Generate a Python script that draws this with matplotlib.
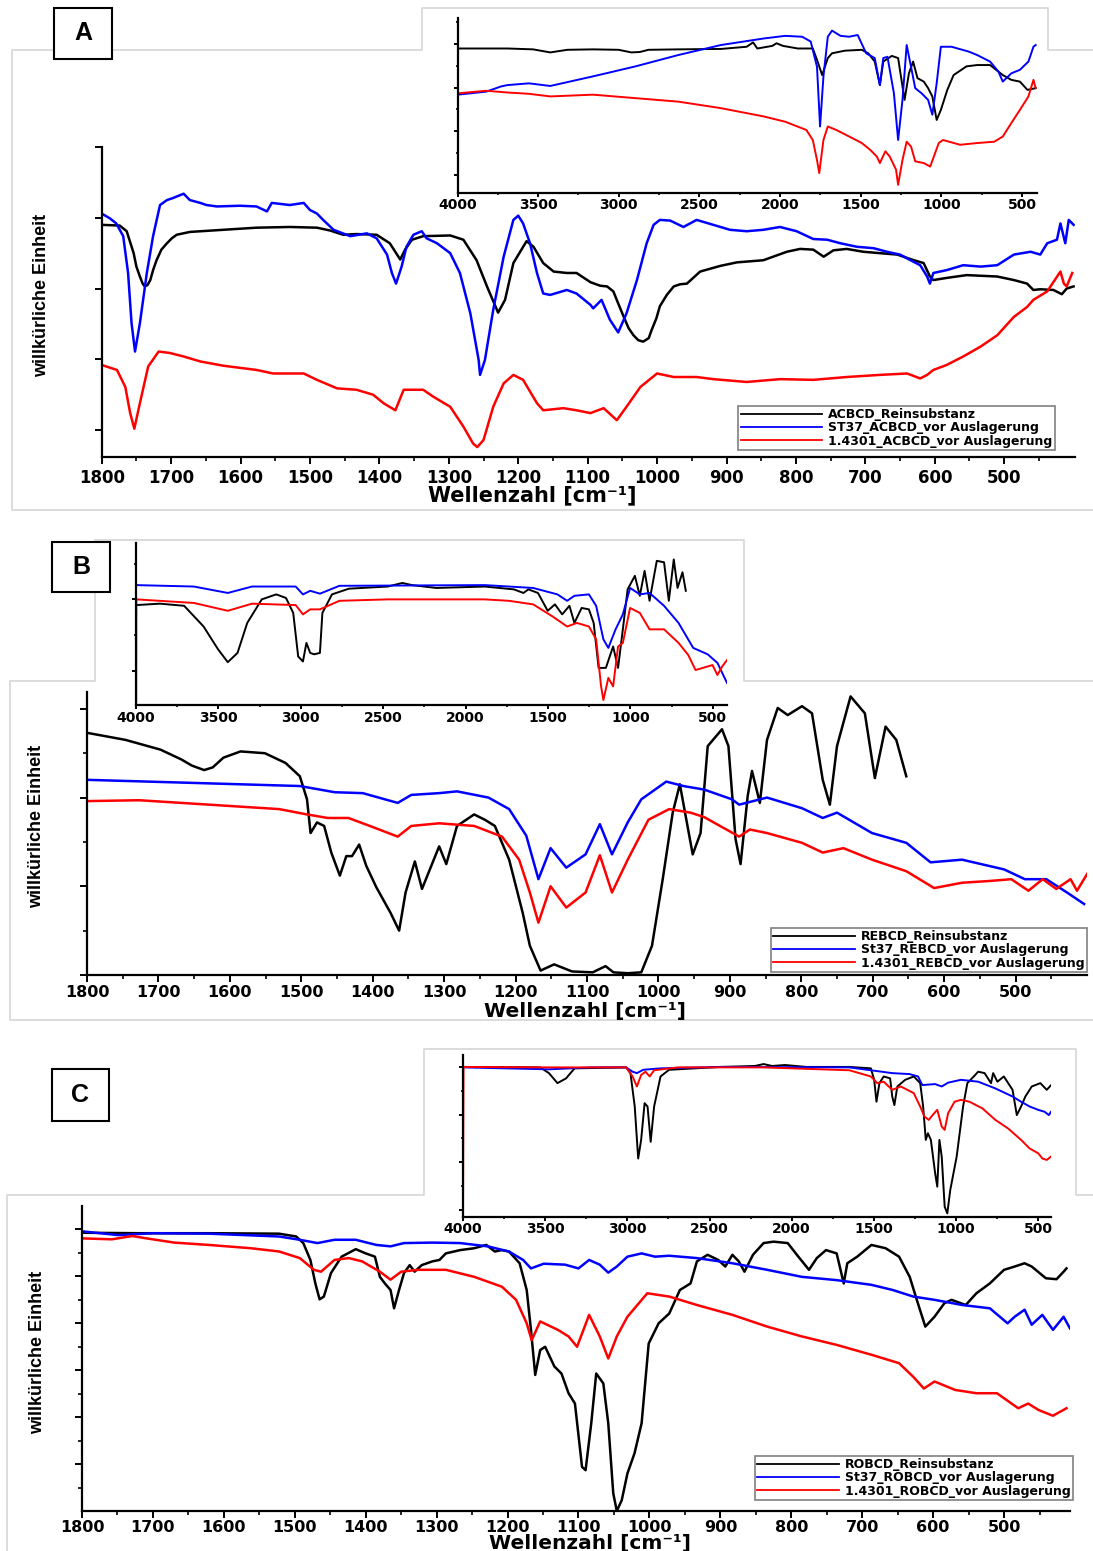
import matplotlib
matplotlib.use("Agg")
import matplotlib.pyplot as plt
from matplotlib import font_manager
from matplotlib.lines import Line2D
from matplotlib.patches import Rectangle
import numpy as np

W, H = 1093, 1551

# wavenumber axes
main_ticks = [1800, 1700, 1600, 1500, 1400, 1300, 1200, 1100, 1000, 900, 800, 700, 600, 500]
main_minor = [1750, 1650, 1550, 1450, 1350, 1250, 1150, 1050, 950, 850, 750, 650, 550, 450]
inset_ticks = [4000, 3500, 3000, 2500, 2000, 1500, 1000, 500]
inset_minor = [3750, 3250, 2750, 2250, 1750, 1250, 750]

colors = ["black", "#0000ff", "#ff0000"]

# ---------------- A: ACBCD ----------------
a_labels = ["ACBCD_Reinsubstanz", "ST37_ACBCD_vor Auslagerung", "1.4301_ACBCD_vor Auslagerung"]

a_black = [(1800, 2.90), (1774, 2.89), (1764, 2.81), (1754, 2.50), (1750, 2.31), (1745, 2.17), (1741, 2.07),
           (1738, 2.03), (1734, 2.05), (1730, 2.12), (1726, 2.26), (1721, 2.40), (1714, 2.55), (1706, 2.64),
           (1699, 2.71), (1692, 2.76), (1673, 2.80), (1625, 2.83), (1577, 2.86), (1529, 2.87),
           (1490, 2.86), (1471, 2.82), (1452, 2.76), (1433, 2.77), (1404, 2.76), (1385, 2.64), (1370, 2.41),
           (1363, 2.55), (1353, 2.69), (1337, 2.74), (1298, 2.75), (1279, 2.69), (1260, 2.40), (1245, 2.03),
           (1229, 1.66), (1219, 1.84), (1207, 2.36), (1188, 2.67), (1178, 2.59), (1164, 2.36), (1149, 2.24),
           (1130, 2.22), (1116, 2.22), (1096, 2.09), (1082, 2.04), (1072, 2.03), (1063, 1.96), (1056, 1.79),
           (1048, 1.60), (1041, 1.44), (1034, 1.34), (1027, 1.27), (1020, 1.25), (1012, 1.30), (1008, 1.41),
           (1001, 1.58), (996, 1.75), (986, 1.91), (976, 2.03), (967, 2.06), (957, 2.07), (938, 2.24),
           (909, 2.32), (885, 2.37), (847, 2.40), (813, 2.52), (794, 2.56), (775, 2.55), (760, 2.45),
           (746, 2.54), (727, 2.56), (703, 2.52), (679, 2.50), (654, 2.48), (630, 2.40), (616, 2.36),
           (607, 2.17), (602, 2.12), (583, 2.15), (554, 2.19), (510, 2.17), (486, 2.12), (467, 2.07),
           (458, 1.98), (448, 1.99), (429, 1.98), (417, 1.92), (410, 2.00), (400, 2.03)]
a_blue = [(1800, 3.06), (1788, 2.99), (1779, 2.92), (1769, 2.74), (1762, 2.22), (1757, 1.51), (1752, 1.11),
          (1745, 1.51), (1735, 2.22), (1726, 2.74), (1716, 3.18), (1706, 3.25), (1697, 3.28), (1682, 3.34),
          (1673, 3.25), (1658, 3.21), (1649, 3.18), (1634, 3.16), (1601, 3.17), (1577, 3.16), (1562, 3.09),
          (1555, 3.21), (1529, 3.18), (1509, 3.21), (1500, 3.11), (1490, 3.06), (1481, 2.97), (1466, 2.83),
          (1442, 2.74), (1418, 2.78), (1404, 2.71), (1389, 2.48), (1382, 2.22), (1376, 2.07), (1368, 2.31),
          (1361, 2.59), (1351, 2.76), (1339, 2.81), (1332, 2.71), (1317, 2.64), (1298, 2.50), (1284, 2.22),
          (1269, 1.65), (1257, 0.99), (1255, 0.78), (1248, 0.99), (1236, 1.70), (1221, 2.45), (1207, 2.97),
          (1200, 3.03), (1193, 2.92), (1183, 2.64), (1173, 2.22), (1164, 1.93), (1154, 1.91), (1130, 1.98),
          (1116, 1.93), (1096, 1.77), (1092, 1.72), (1080, 1.84), (1068, 1.56), (1056, 1.38), (1044, 1.65),
          (1029, 2.12), (1015, 2.64), (1005, 2.90), (996, 2.97), (981, 2.96), (962, 2.87), (943, 2.97),
          (919, 2.90), (895, 2.83), (871, 2.81), (847, 2.83), (823, 2.87), (799, 2.81), (775, 2.70),
          (755, 2.69), (736, 2.64), (712, 2.59), (688, 2.57), (669, 2.52), (650, 2.48), (631, 2.38),
          (621, 2.33), (611, 2.17), (607, 2.07), (602, 2.22), (583, 2.26), (559, 2.33), (534, 2.31),
          (510, 2.33), (486, 2.48), (462, 2.52), (448, 2.48), (438, 2.64), (424, 2.69), (419, 2.92),
          (412, 2.64), (407, 2.97), (400, 2.90)]
a_red = [(1800, 0.92), (1778, 0.85), (1766, 0.61), (1759, 0.24), (1753, 0.02), (1745, 0.38), (1733, 0.90),
         (1718, 1.11), (1702, 1.09), (1682, 1.04), (1658, 0.97), (1625, 0.91), (1577, 0.85), (1553, 0.80),
         (1509, 0.80), (1490, 0.71), (1461, 0.59), (1433, 0.57), (1409, 0.50), (1394, 0.38), (1377, 0.28),
         (1365, 0.57), (1337, 0.57), (1322, 0.47), (1298, 0.33), (1279, 0.05), (1265, -0.19), (1259, -0.24),
         (1250, -0.14), (1236, 0.33), (1221, 0.66), (1207, 0.78), (1193, 0.71), (1173, 0.38), (1164, 0.28),
         (1135, 0.31), (1116, 0.28), (1096, 0.24), (1077, 0.31), (1058, 0.14), (1044, 0.33), (1024, 0.61),
         (1000, 0.80), (976, 0.75), (943, 0.75), (919, 0.72), (871, 0.68), (823, 0.72), (775, 0.71),
         (727, 0.75), (679, 0.78), (640, 0.80), (621, 0.73), (611, 0.78), (602, 0.85), (583, 0.92),
         (559, 1.04), (534, 1.18), (510, 1.34), (486, 1.60), (467, 1.74), (458, 1.84), (438, 1.96),
         (419, 2.24), (414, 2.07), (410, 2.03), (402, 2.22)]

a_ins_black = [(4000, 2.90), (3690, 2.90), (3531, 2.88), (3425, 2.81), (3319, 2.87), (3160, 2.88), (3001, 2.87),
               (2922, 2.81), (2869, 2.82), (2816, 2.87), (2631, 2.88), (2366, 2.89), (2207, 2.94), (2167, 3.04),
               (2141, 2.90), (2048, 2.96), (2022, 3.02), (1982, 2.96), (1890, 2.90), (1797, 2.90), (1771, 2.64),
               (1739, 2.29), (1704, 2.68), (1678, 2.79), (1598, 2.85), (1493, 2.87), (1453, 2.79), (1413, 2.60),
               (1381, 2.06), (1360, 2.60), (1307, 2.73), (1268, 2.68), (1228, 1.72), (1201, 2.33), (1175, 2.60),
               (1148, 2.22), (1109, 2.14), (1082, 1.99), (1056, 1.80), (1029, 1.26), (1003, 1.49), (963, 1.95),
               (924, 2.29), (844, 2.49), (778, 2.52), (698, 2.52), (619, 2.29), (566, 2.18), (513, 2.14),
               (466, 1.95), (415, 1.99)]
a_ins_blue = [(4000, 1.84), (3822, 1.91), (3729, 2.03), (3690, 2.06), (3557, 2.10), (3425, 2.04), (3160, 2.26),
              (2896, 2.49), (2631, 2.75), (2366, 2.98), (2101, 3.13), (1969, 3.19), (1863, 3.17), (1810, 3.06),
              (1771, 2.48), (1752, 1.11), (1731, 2.26), (1704, 3.17), (1678, 3.31), (1625, 3.19), (1572, 3.17),
              (1519, 3.21), (1466, 2.79), (1413, 2.68), (1381, 2.06), (1360, 2.68), (1334, 2.71), (1294, 1.87),
              (1268, 0.80), (1241, 1.72), (1215, 2.98), (1188, 2.48), (1162, 1.99), (1122, 1.87), (1082, 1.72),
              (1056, 1.38), (1029, 2.10), (1003, 2.94), (937, 2.94), (831, 2.83), (778, 2.75), (698, 2.60),
              (646, 2.37), (619, 2.14), (566, 2.33), (513, 2.41), (460, 2.60), (429, 2.94), (415, 2.98)]
a_ins_red = [(4000, 1.87), (3822, 1.93), (3690, 1.89), (3557, 1.86), (3425, 1.80), (3160, 1.84), (2896, 1.76),
             (2631, 1.68), (2366, 1.53), (2101, 1.34), (1969, 1.22), (1837, 1.03), (1797, 0.80), (1771, 0.34),
             (1757, 0.04), (1731, 0.80), (1704, 1.11), (1651, 1.03), (1572, 0.88), (1493, 0.73), (1440, 0.57),
             (1400, 0.42), (1381, 0.27), (1347, 0.54), (1320, 0.42), (1281, 0.12), (1268, -0.23), (1241, 0.34),
             (1215, 0.76), (1188, 0.65), (1162, 0.31), (1109, 0.27), (1069, 0.19), (1016, 0.73), (990, 0.80),
             (884, 0.69), (778, 0.73), (672, 0.76), (619, 0.88), (566, 1.19), (513, 1.49), (460, 1.80),
             (429, 2.18), (415, 1.99)]

# ---------------- B: REBCD ----------------
b_labels = ["REBCD_Reinsubstanz", "St37_REBCD_vor Auslagerung", "1.4301_REBCD_vor Auslagerung"]

b_black = [(1800, 1.73), (1746, 1.65), (1697, 1.54), (1668, 1.43), (1653, 1.36), (1636, 1.31), (1624, 1.34),
           (1609, 1.45), (1585, 1.52), (1551, 1.50), (1522, 1.39), (1502, 1.24), (1492, 0.98), (1487, 0.60),
           (1478, 0.72), (1468, 0.68), (1458, 0.38), (1446, 0.12), (1437, 0.34), (1429, 0.34), (1419, 0.47),
           (1409, 0.23), (1395, -0.01), (1375, -0.30), (1363, -0.50), (1354, -0.07), (1341, 0.28), (1331, -0.03),
           (1318, 0.23), (1307, 0.45), (1297, 0.25), (1282, 0.68), (1258, 0.81), (1243, 0.75), (1229, 0.68),
           (1209, 0.30), (1190, -0.30), (1180, -0.67), (1165, -0.95), (1146, -0.88), (1121, -0.96), (1092, -0.97),
           (1074, -0.90), (1063, -0.97), (1043, -0.98), (1024, -0.97), (1009, -0.67), (994, 0.08), (980, 0.83),
           (970, 1.15), (960, 0.71), (952, 0.36), (941, 0.60), (931, 1.58), (911, 1.77), (902, 1.58), (892, 0.53),
           (885, 0.25), (875, 1.02), (869, 1.30), (858, 0.94), (848, 1.65), (833, 2.01), (819, 1.93), (799, 2.03),
           (785, 1.95), (770, 1.20), (760, 0.92), (750, 1.58), (731, 2.14), (711, 1.95), (697, 1.22), (682, 1.80),
           (667, 1.65), (653, 1.24)]
b_blue = [(1800, 1.20), (1629, 1.16), (1502, 1.13), (1453, 1.06), (1414, 1.05), (1365, 0.94), (1346, 1.03),
          (1307, 1.05), (1282, 1.07), (1238, 1.00), (1209, 0.87), (1185, 0.57), (1168, 0.08), (1151, 0.43),
          (1129, 0.21), (1102, 0.36), (1082, 0.70), (1065, 0.36), (1043, 0.72), (1024, 0.98), (989, 1.18),
          (965, 1.13), (936, 1.09), (897, 0.98), (887, 0.92), (848, 1.00), (799, 0.88), (770, 0.77), (750, 0.83),
          (701, 0.60), (653, 0.49), (619, 0.27), (575, 0.30), (516, 0.19), (487, 0.08), (457, 0.08), (428, -0.07),
          (404, -0.20)]
b_red = [(1800, 0.96), (1727, 0.97), (1629, 0.92), (1531, 0.87), (1492, 0.81), (1463, 0.77), (1434, 0.77),
         (1404, 0.68), (1365, 0.56), (1346, 0.68), (1307, 0.71), (1258, 0.68), (1219, 0.56), (1195, 0.30),
         (1180, -0.07), (1168, -0.41), (1151, 0.00), (1129, -0.24), (1102, -0.07), (1082, 0.35), (1065, -0.07),
         (1043, 0.30), (1014, 0.75), (985, 0.87), (955, 0.83), (936, 0.78), (887, 0.56), (872, 0.64), (848, 0.60),
         (799, 0.49), (770, 0.38), (741, 0.43), (701, 0.30), (653, 0.17), (614, -0.02), (575, 0.04), (536, 0.06),
         (506, 0.08), (482, -0.05), (462, 0.08), (443, -0.03), (423, 0.08), (414, -0.05), (399, 0.15)]

b_ins_black = [(3999, 0.92), (3855, 0.94), (3708, 0.91), (3590, 0.62), (3502, 0.30), (3443, 0.12), (3384, 0.25),
               (3325, 0.67), (3237, 1.00), (3149, 1.07), (3090, 1.02), (3046, 0.81), (3016, 0.20), (2987, 0.13),
               (2966, 0.39), (2943, 0.25), (2919, 0.23), (2884, 0.25), (2869, 0.81), (2811, 1.07), (2708, 1.15),
               (2472, 1.18), (2384, 1.23), (2325, 1.20), (2178, 1.16), (1884, 1.18), (1707, 1.14), (1649, 1.09),
               (1619, 1.14), (1561, 1.09), (1502, 0.84), (1458, 0.93), (1414, 0.79), (1370, 0.91), (1340, 0.67),
               (1296, 0.88), (1252, 0.86), (1223, 0.67), (1193, 0.04), (1149, 0.04), (1105, 0.34), (1075, 0.04),
               (1046, 0.58), (1017, 1.14), (973, 1.33), (943, 1.05), (914, 1.40), (884, 0.98), (840, 1.54),
               (796, 1.52), (767, 0.98), (737, 1.56), (714, 1.16), (684, 1.38), (664, 1.12)]
b_ins_blue = [(3999, 1.20), (3649, 1.18), (3443, 1.09), (3296, 1.18), (3031, 1.18), (2987, 1.07), (2943, 1.12),
              (2884, 1.08), (2766, 1.19), (1884, 1.20), (1590, 1.16), (1443, 1.07), (1384, 0.98), (1340, 1.05),
              (1252, 1.07), (1208, 0.91), (1164, 0.44), (1134, 0.32), (1090, 0.58), (1046, 0.79), (1002, 1.16),
              (943, 1.07), (884, 1.09), (796, 0.91), (708, 0.67), (619, 0.32), (531, 0.23), (472, 0.11),
              (414, -0.17)]
b_ins_red = [(3999, -0.48), (3998, 1.00), (3649, 0.95), (3443, 0.84), (3296, 0.94), (3031, 0.92), (2987, 0.79),
             (2943, 0.86), (2884, 0.86), (2766, 0.98), (2472, 1.00), (1884, 1.00), (1737, 0.98), (1590, 0.93),
             (1472, 0.76), (1384, 0.62), (1325, 0.67), (1252, 0.62), (1208, 0.44), (1178, -0.22), (1164, -0.41),
             (1134, -0.10), (1105, -0.22), (1075, 0.34), (1046, 0.39), (1002, 0.88), (943, 0.81), (884, 0.58),
             (796, 0.58), (708, 0.39), (649, 0.22), (605, 0.01), (502, 0.08), (472, -0.06), (443, 0.06),
             (414, 0.15)]

# ---------------- C: ROBCD ----------------
c_labels = ["ROBCD_Reinsubstanz", "St37_ROBCD_vor Auslagerung", "1.4301_ROBCD_vor Auslagerung"]

c_black = [(1800, 5.93), (1719, 5.92), (1621, 5.92), (1522, 5.91), (1498, 5.85), (1488, 5.71), (1478, 5.35),
           (1471, 4.85), (1465, 4.51), (1459, 4.57), (1449, 5.07), (1434, 5.42), (1414, 5.58), (1400, 5.49),
           (1387, 5.42), (1380, 4.99), (1373, 4.85), (1365, 4.71), (1360, 4.32), (1353, 4.71), (1346, 5.07),
           (1338, 5.24), (1331, 5.10), (1321, 5.24), (1306, 5.32), (1296, 5.35), (1287, 5.49), (1267, 5.56),
           (1247, 5.60), (1230, 5.67), (1218, 5.53), (1208, 5.56), (1198, 5.53), (1183, 5.28), (1173, 4.71),
           (1167, 3.86), (1161, 2.90), (1154, 3.43), (1147, 3.50), (1134, 3.08), (1124, 2.93), (1114, 2.51),
           (1105, 2.29), (1095, 0.94), (1090, 0.87), (1082, 1.87), (1075, 2.93), (1065, 2.72), (1058, 1.87),
           (1051, 0.38), (1046, 0.00), (1039, 0.23), (1031, 0.80), (1021, 1.23), (1011, 1.87), (1001, 3.57),
           (987, 4.00), (972, 4.21), (957, 4.71), (942, 4.85), (933, 5.32), (918, 5.46), (903, 5.35), (893, 5.21),
           (883, 5.46), (874, 5.32), (866, 5.10), (854, 5.46), (839, 5.71), (825, 5.74), (805, 5.71), (790, 5.42),
           (775, 5.14), (764, 5.39), (751, 5.56), (736, 5.49), (726, 4.85), (721, 5.28), (707, 5.42), (687, 5.67),
           (667, 5.60), (648, 5.42), (633, 4.99), (623, 4.50), (611, 3.93), (598, 4.14), (584, 4.43), (574, 4.50),
           (554, 4.39), (539, 4.64), (520, 4.85), (500, 5.14), (485, 5.21), (471, 5.28), (461, 5.21), (441, 4.96),
           (426, 4.94), (416, 5.10), (412, 5.17)]
c_blue = [(1800, 5.96), (1749, 5.88), (1699, 5.92), (1621, 5.91), (1522, 5.85), (1493, 5.78), (1468, 5.71),
          (1444, 5.78), (1414, 5.78), (1385, 5.67), (1365, 5.64), (1346, 5.71), (1306, 5.72), (1267, 5.71),
          (1228, 5.64), (1198, 5.53), (1178, 5.35), (1167, 5.17), (1149, 5.27), (1119, 5.25), (1100, 5.17),
          (1085, 5.35), (1070, 5.25), (1058, 5.08), (1046, 5.21), (1031, 5.42), (1011, 5.49), (992, 5.42),
          (972, 5.44), (933, 5.39), (883, 5.28), (834, 5.14), (785, 4.99), (736, 4.92), (687, 4.82), (657, 4.71),
          (628, 4.57), (598, 4.50), (559, 4.39), (520, 4.32), (495, 4.00), (485, 4.14), (471, 4.29), (461, 3.97),
          (446, 4.18), (431, 3.86), (416, 4.14), (407, 3.89)]
c_red = [(1800, 5.81), (1758, 5.79), (1729, 5.86), (1709, 5.81), (1670, 5.72), (1621, 5.67), (1562, 5.60),
         (1522, 5.53), (1493, 5.39), (1473, 5.14), (1463, 5.10), (1444, 5.35), (1424, 5.39), (1405, 5.32),
         (1380, 5.10), (1365, 4.93), (1350, 5.10), (1326, 5.14), (1287, 5.14), (1247, 4.99), (1208, 4.78),
         (1188, 4.50), (1173, 4.00), (1166, 3.64), (1154, 4.04), (1129, 3.86), (1114, 3.72), (1102, 3.50),
         (1085, 4.18), (1070, 3.72), (1058, 3.25), (1046, 3.72), (1031, 4.14), (1003, 4.64), (972, 4.57),
         (933, 4.39), (883, 4.18), (834, 3.93), (785, 3.72), (736, 3.54), (687, 3.33), (648, 3.15), (628, 2.86),
         (613, 2.61), (598, 2.76), (569, 2.58), (539, 2.51), (510, 2.51), (480, 2.19), (466, 2.29), (451, 2.15),
         (431, 2.03), (412, 2.19)]

c_ins_black = [(4000, 3.00), (3530, 2.99), (3477, 2.87), (3425, 2.66), (3373, 2.76), (3321, 2.97), (3007, 2.99),
               (2981, 2.87), (2955, 2.17), (2934, 1.08), (2916, 1.47), (2895, 2.24), (2877, 2.17), (2858, 1.43),
               (2837, 2.17), (2798, 2.80), (2746, 2.94), (2433, 3.00), (2224, 3.02), (2171, 3.06), (2119, 3.02),
               (2041, 3.04), (1910, 3.00), (1649, 3.00), (1518, 2.97), (1498, 2.73), (1484, 2.27), (1466, 2.66),
               (1440, 2.80), (1401, 2.76), (1388, 2.38), (1375, 2.20), (1357, 2.59), (1309, 2.73), (1257, 2.80),
               (1218, 2.66), (1200, 2.17), (1184, 1.47), (1171, 1.61), (1153, 1.47), (1127, 0.77), (1114, 0.49),
               (1101, 1.47), (1087, 1.12), (1069, 0.07), (1053, -0.07), (1035, 0.42), (996, 1.12), (957, 2.17),
               (931, 2.66), (892, 2.80), (865, 2.90), (826, 2.87), (787, 2.66), (774, 2.87), (748, 2.69),
               (709, 2.80), (656, 2.52), (630, 1.99), (604, 2.17), (578, 2.38), (539, 2.59), (487, 2.66),
               (448, 2.52), (421, 2.62)]
c_ins_blue = [(4000, 2.99), (3739, 2.97), (3477, 2.95), (3216, 2.99), (3007, 2.99), (2968, 2.90), (2942, 2.87),
              (2903, 2.94), (2798, 2.97), (2433, 3.00), (1649, 2.99), (1518, 2.93), (1388, 2.87), (1283, 2.85),
              (1231, 2.80), (1205, 2.62), (1127, 2.64), (1087, 2.59), (1048, 2.67), (970, 2.73), (865, 2.69),
              (761, 2.55), (656, 2.38), (604, 2.27), (552, 2.17), (500, 2.10), (461, 2.06), (435, 1.99),
              (422, 2.06)]
c_ins_red = [(4000, -0.14), (3997, 3.00), (3477, 2.99), (3007, 2.99), (2968, 2.80), (2942, 2.59), (2916, 2.83),
             (2890, 2.90), (2864, 2.80), (2837, 2.93), (2694, 2.99), (2171, 2.99), (1649, 2.93), (1518, 2.80),
             (1479, 2.66), (1440, 2.69), (1388, 2.52), (1336, 2.59), (1257, 2.45), (1218, 2.17), (1192, 1.96),
             (1166, 1.89), (1140, 2.00), (1114, 2.10), (1087, 1.75), (1069, 1.68), (1048, 2.03), (1009, 2.27),
             (970, 2.31), (918, 2.27), (839, 2.13), (761, 1.89), (683, 1.71), (604, 1.47), (552, 1.29),
             (500, 1.19), (474, 1.08), (448, 1.05), (422, 1.12)]


def pick_font(names):
    for name in names:
        try:
            font_manager.findfont(font_manager.FontProperties(family=name, weight="bold"),
                                  fallback_to_default=False)
            return name
        except ValueError:
            pass
    return "DejaVu Sans"


BOLD_WIDE = "DejaVu Sans"
NARROW = pick_font(["Liberation Sans Narrow", "Liberation Sans"])
NARROW_SIZE = 16 if NARROW == "Liberation Sans Narrow" else 13
ARIAL = pick_font(["Liberation Sans"])

fig = plt.figure(figsize=(W / 100, H / 100), dpi=100)
fig.patch.set_facecolor("white")


def box(x0, y0, x1, y1):
    return [x0 / W, 1 - y1 / H, (x1 - x0) / W, (y1 - y0) / H]


def fpt(x, y):
    return x / W, 1 - y / H


def frame(points):
    xs = [p[0] / W for p in points]
    ys = [1 - p[1] / H for p in points]
    fig.add_artist(Line2D(xs, ys, transform=fig.transFigure, color="#d6d6d6", lw=1.2))


def letter(ch, x0, y0, x1, y1):
    fig.add_artist(Rectangle(fpt(x0, y1), (x1 - x0) / W, (y1 - y0) / H, transform=fig.transFigure,
                             fill=True, facecolor="white", edgecolor="black", lw=1.5, zorder=5))
    cx, cy = fpt((x0 + x1) / 2, (y0 + y1) / 2)
    fig.text(cx, cy, ch, ha="center", va="center", fontsize=18, fontweight="bold", family=ARIAL, zorder=6)


def style(ax, xlim, ylim, ymaj, ymin, xt, xm, size, tlen, pad):
    ax.set_xlim(*xlim)
    ax.set_ylim(*ylim)
    ax.set_facecolor("none")
    for s in ("top", "right"):
        ax.spines[s].set_visible(False)
    for s in ("left", "bottom"):
        ax.spines[s].set_linewidth(1.6)
    ax.set_xticks(xt)
    ax.set_xticklabels([str(t) for t in xt], fontsize=size, fontweight="bold", family=BOLD_WIDE)
    ax.set_xticks(xm, minor=True)
    ax.set_yticks(ymaj)
    ax.set_yticklabels([])
    ax.set_yticks(ymin, minor=True)
    ax.tick_params(which="major", direction="out", length=tlen, width=1.4, pad=pad)
    ax.tick_params(which="minor", direction="out", length=tlen * 0.6, width=1.2)


def curves(ax, series, lw):
    for pts, c in zip(series, colors):
        arr = np.array(pts)
        ax.plot(arr[:, 0], arr[:, 1], color=c, lw=lw, solid_joinstyle="round")


def legend(ax, labels, x1, y1, size):
    handles = [Line2D([], [], color=c, lw=1.3) for c in colors]
    leg = ax.legend(handles, labels, loc="lower right", bbox_to_anchor=fpt(x1, y1),
                    bbox_transform=fig.transFigure, borderaxespad=0, fancybox=False,
                    edgecolor="#8a8a8a", framealpha=1, handlelength=6.5, handletextpad=0.5,
                    labelspacing=0.02, borderpad=0.2,
                    prop={"weight": "bold", "size": size, "family": BOLD_WIDE})
    leg.get_frame().set_linewidth(1.3)


def ylabel(x, y):
    fx, fy = fpt(x, y)
    fig.text(fx, fy, "willkürliche Einheit", rotation=90, ha="center", va="center",
             fontsize=NARROW_SIZE, fontweight="bold", family=NARROW)


def xlabel(x, y, size):
    fx, fy = fpt(x, y)
    fig.text(fx, fy, "Wellenzahl [cm⁻¹]", ha="center", va="center",
             fontsize=size, fontweight="bold", family=BOLD_WIDE)


# panel frames
frame([(1093, 510), (12, 510), (12, 50), (422, 50), (422, 8), (1048, 8), (1048, 50), (1093, 50)])
frame([(1093, 1020), (10, 1020), (10, 681), (95, 681), (95, 540), (744, 540), (744, 681), (1093, 681)])
frame([(7, 1551), (7, 1195), (424, 1195), (424, 1049), (1076, 1049), (1076, 1195), (1093, 1195)])

# ---- A ----
ax = fig.add_axes(box(101.7, 147, 1075, 457))
style(ax, (1800, 398), (-0.38, 4.0), [0, 1, 2, 3, 4], [], main_ticks, main_minor, 12, 5, 3.5)
curves(ax, [a_black, a_blue, a_red], 1.8)
legend(ax, a_labels, 1055, 450, 9)

axi = fig.add_axes(box(457.5, 18, 1036.5, 192.7))
style(axi, (4000, 410), (-0.41, 3.6), [0, 1, 2, 3], [0.5, 1.5, 2.5, 3.5], inset_ticks, inset_minor, 10, 3, 1)
curves(axi, [a_ins_black, a_ins_blue, a_ins_red], 1.4)

ylabel(42, 295)
xlabel(532, 495, 15)
letter("A", 54, 8, 112, 59)

# ---- B ----
ax = fig.add_axes(box(87, 692, 1087, 975))
style(ax, (1800, 400), (-0.99, 2.19), [-1, 0, 1, 2], [-0.5, 0.5, 1.5], main_ticks, main_minor, 11.5, 5, 2)
curves(ax, [b_black, b_blue, b_red], 1.8)
legend(ax, b_labels, 1087, 972, 9)

axi = fig.add_axes(box(136, 543, 727, 705))
style(axi, (4000, 414), (-0.48, 1.79), [0, 1], [0.5, 1.5], inset_ticks, inset_minor, 10, 3, 1)
curves(axi, [b_ins_black, b_ins_blue, b_ins_red], 1.4)

ylabel(37, 826)
xlabel(585, 1011, 14.5)
letter("B", 52, 542, 110, 592)

# ---- C ----
ax = fig.add_axes(box(82, 1206, 1070, 1511))
style(ax, (1800, 407), (0, 6.5), [1, 2, 3, 4, 5, 6], [0.5, 1.5, 2.5, 3.5, 4.5, 5.5], main_ticks, main_minor,
      11.5, 5, 1.5)
curves(ax, [c_black, c_blue, c_red], 1.8)
legend(ax, c_labels, 1073, 1500, 9)

axi = fig.add_axes(box(463, 1055, 1051, 1216.7))
style(axi, (4000, 422), (-0.14, 3.25), [0, 1, 2, 3], [0.5, 1.5, 2.5], inset_ticks, inset_minor, 10, 3, 1)
curves(axi, [c_ins_black, c_ins_blue, c_ins_red], 1.4)

ylabel(38, 1352)
xlabel(590, 1543, 14.5)
letter("C", 52, 1069, 109, 1121)

fig.savefig("out.png", dpi=100)
